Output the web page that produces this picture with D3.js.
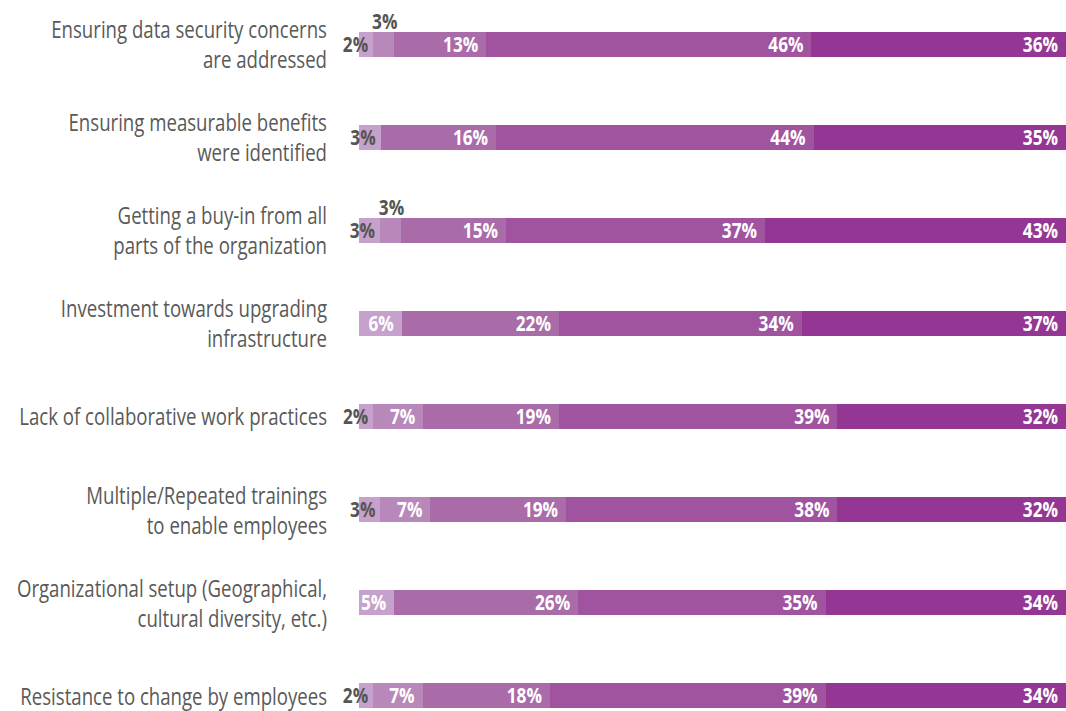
<!DOCTYPE html>
<html>
<head>
<meta charset="utf-8">
<script src="https://cdn.jsdelivr.net/npm/d3@7"></script>
<style>
  html, body { margin: 0; padding: 0; background: #fff; }
  svg { display: block; }
</style>
</head>
<body>
<svg id="chart" width="1066" height="711"></svg>
<script>
// Survey challenges, share of respondents per rating level (lightest = lowest)
const categories = [
  "Ensuring data security concerns\nare addressed",
  "Ensuring measurable benefits\nwere identified",
  "Getting a buy-in from all\nparts of the organization",
  "Investment towards upgrading\ninfrastructure",
  "Lack of collaborative work practices",
  "Multiple/Repeated trainings\nto enable employees",
  "Organizational setup (Geographical,\ncultural diversity, etc.)",
  "Resistance to change by employees"
];
const level1 = [2, 3, 3, 6, 2, 3, 5, 2];
const level2 = [3, 0, 3, 0, 7, 7, 0, 7];
const level3 = [13, 16, 15, 22, 19, 19, 26, 18];
const level4 = [46, 44, 37, 34, 39, 38, 35, 39];
const level5 = [36, 35, 43, 37, 32, 32, 34, 34];
const levelKeys = ["level1", "level2", "level3", "level4", "level5"];
const levelColors = ["#c5a1cb", "#b888bb", "#a96ca9", "#a0549f", "#943693"];

const rows = categories.map((c, i) => ({
  category: c,
  level1: level1[i], level2: level2[i], level3: level3[i],
  level4: level4[i], level5: level5[i]
}));

const svg = d3.select("#chart");
const SX_LABEL = 0.81;   // horizontal condensing of category labels
const SX_VALUE = 0.82;   // horizontal condensing of value labels

const x = d3.scaleLinear().domain([0, 1]).range([359, 1066]);

const rowStep = 93.1, barPad = 0.73, firstBarTop = 31.5;
const y = d3.scaleBand()
  .domain(categories)
  .range([firstBarTop, firstBarTop + rowStep * (categories.length - barPad)])
  .paddingInner(barPad)
  .paddingOuter(0);

const stack = d3.stack().keys(levelKeys).offset(d3.stackOffsetExpand);
const series = stack(rows);

// Bars
const layer = svg.append("g").selectAll("g")
  .data(series)
  .join("g")
  .attr("fill", (d, i) => levelColors[i]);

layer.selectAll("rect")
  .data(d => d.map(p => ({ p, key: d.key })))
  .join("rect")
  .attr("x", d => x(d.p[0]))
  .attr("y", d => y(d.p.data.category))
  .attr("width", d => Math.max(0, x(d.p[1]) - x(d.p[0])))
  .attr("height", y.bandwidth())
  .attr("shape-rendering", "crispEdges");

// Value labels: small first segments sit just left in grey, small later ones go above the bar
const labels = [];
series.forEach((s, si) => {
  s.forEach(p => {
    const v = p.data[s.key];
    if (!v) return;
    const x0 = x(p[0]), x1 = x(p[1]);
    const yTop = y(p.data.category);
    const yMid = yTop + y.bandwidth() / 2;
    const small = v <= 3;
    if (small && si > 0) {
      labels.push({ text: v + "%", x: (x0 + x1) / 2 + 1, y: yTop - 3, anchor: "middle", fill: "#555555" });
    } else {
      labels.push({ text: v + "%", x: x1 - (small ? 5 : 8), y: yMid + 7.5, anchor: "end", fill: small ? "#555555" : "#ffffff" });
    }
  });
});

svg.append("g").selectAll("text")
  .data(labels)
  .join("text")
  .attr("transform", d => `translate(${d.x},${d.y}) scale(${SX_VALUE},1)`)
  .attr("text-anchor", d => d.anchor)
  .attr("fill", d => d.fill)
  .style("font-family", "'Open Sans', 'DejaVu Sans', sans-serif")
  .style("font-weight", "700")
  .style("font-size", "21px")
  .text(d => d.text);

// Category labels
const catG = svg.append("g").selectAll("g")
  .data(categories)
  .join("g")
  .attr("transform", d => `translate(327,${y(d) + y.bandwidth() / 2})`);

catG.each(function (d) {
  const lines = d.split("\n");
  const g = d3.select(this);
  const offsets = lines.length === 1 ? [9] : [-6, 24];
  lines.forEach((ln, i) => {
    g.append("text")
      .attr("transform", `translate(0,${offsets[i]}) scale(${SX_LABEL},1)`)
      .attr("text-anchor", "end")
      .attr("fill", "#595959")
      .style("font-family", "'Open Sans', 'DejaVu Sans', sans-serif")
      .style("font-size", "23px")
      .text(ln);
  });
});
</script>
</body>
</html>
